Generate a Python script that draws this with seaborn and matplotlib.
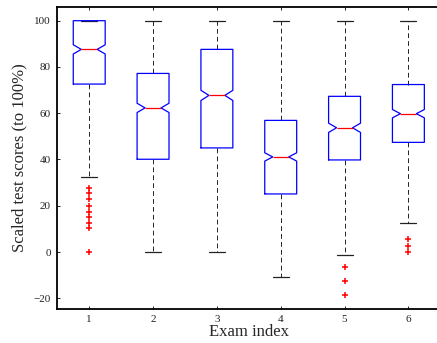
import matplotlib
matplotlib.use("Agg")
import matplotlib.pyplot as plt
import seaborn as sns
import pandas as pd

# ---- data ----
exams = [1, 2, 3, 4, 5, 6]
q1 = [72.6, 40.1, 45.0, 25.1, 39.8, 47.4]
median = [87.6, 62.3, 67.7, 41.1, 53.7, 59.8]
q3 = [100.0, 77.2, 87.6, 56.9, 67.3, 72.4]
whisker_low = [32.3, 0.0, 0.0, -10.8, -1.3, 12.5]
whisker_high = [100.0, 100.0, 100.0, 100.0, 100.0, 100.0]
notch_low = [85.6, 60.3, 65.5, 39.3, 51.7, 58.0]
notch_high = [89.6, 64.3, 69.9, 42.9, 55.7, 61.6]

outlier_exam = [1, 1, 1, 1, 1, 1, 1, 1, 1, 5, 5, 5, 6, 6, 6]
outlier_score = [27.8, 25.4, 22.8, 19.9, 17.4, 15.0, 12.7, 10.2, 0.0,
                 -6.3, -12.7, -18.7, 5.5, 2.7, 0.0]

y_ticks = [-20, 0, 20, 40, 60, 80, 100]

sns.set_style("ticks")
plt.rcParams["font.family"] = ["Liberation Serif", "DejaVu Serif"]
plt.rcParams["lines.scale_dashes"] = False

fig = plt.figure(figsize=(4.37, 3.43), dpi=100)
W, H = 437, 343
ax = fig.add_axes([57.3 / W, 34 / H, (440.3 - 57.3) / W, (309 - 6.7) / H])

stats = []
for i in range(len(exams)):
    stats.append(dict(med=median[i], q1=q1[i], q3=q3[i],
                      whislo=whisker_low[i], whishi=whisker_high[i],
                      cilo=notch_low[i], cihi=notch_high[i], fliers=[]))

ax.bxp(stats, positions=exams, widths=0.5, capwidths=0.25,
       shownotches=True, showfliers=False, manage_ticks=False,
       boxprops=dict(color="#0000ff", linewidth=0.9, zorder=2.2),
       medianprops=dict(color="#ff0000", linewidth=0.9, zorder=2.3),
       whiskerprops=dict(color="#222222", linewidth=0.7, linestyle=(0, (3.4, 2.3)),
                         zorder=2.0),
       capprops=dict(color="#222222", linewidth=0.9, zorder=2.0))

fl = pd.DataFrame({"exam": outlier_exam, "score": outlier_score})
sns.scatterplot(data=fl, x="exam", y="score", marker="+", color="#ff0000",
                s=22, linewidth=1.1, ax=ax, zorder=3)

ax.set_xlim(0.5, 6.5)
ax.set_ylim(-24.64, 106.05)
ax.set_xticks(exams)
ax.set_xticklabels([str(e) for e in exams])
ax.set_yticks(y_ticks)
ax.set_yticklabels([("\u2212" + str(-t)) if t < 0 else str(t) for t in y_ticks])

ax.tick_params(axis="both", which="both", direction="in", top=True, right=True,
               length=2.5, width=0.6, labelsize=8, pad=4.5, color="black",
               labelcolor="#222222")
for s in ax.spines.values():
    s.set_linewidth(1.3)
    s.set_color("black")

ax.set_xlabel("Exam index", fontsize=12, labelpad=0.0)
ax.set_ylabel("Scaled test scores (to 100%)", fontsize=12, labelpad=4.5)

fig.savefig("out.png", dpi=100)
